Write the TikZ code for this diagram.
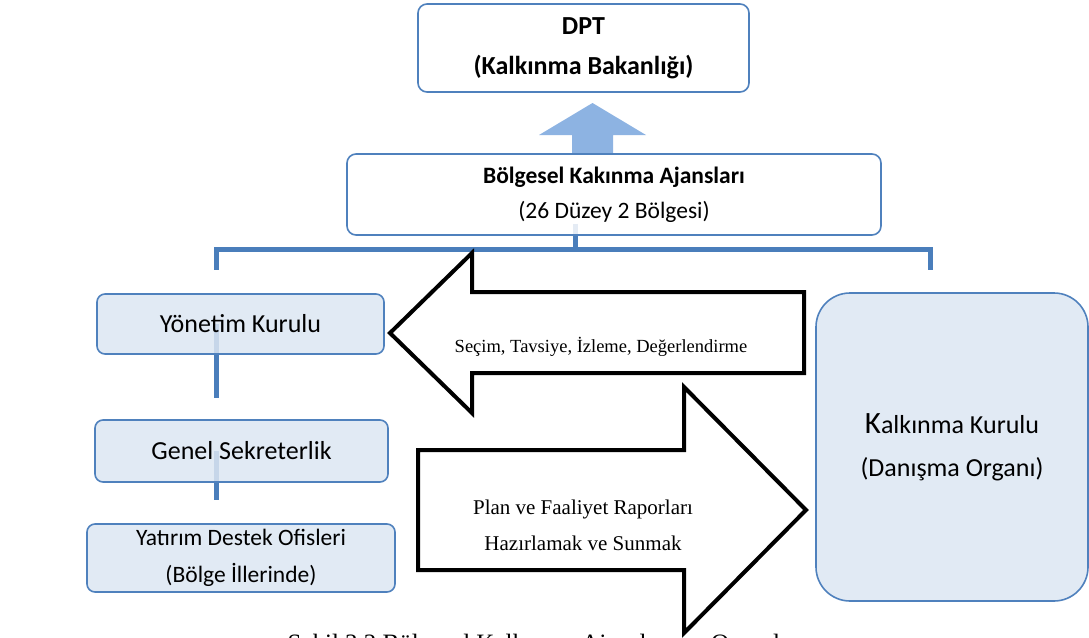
\documentclass[tikz,border=0pt]{standalone}
\usepackage{fontspec}
\setmainfont{Carlito}
\newfontfamily\serifface{Liberation Serif}
\usetikzlibrary{positioning, calc, backgrounds}

\definecolor{boxline}{HTML}{4F81BD}
\definecolor{boxfill}{HTML}{DCE6F2}
\definecolor{barline}{HTML}{4A7EBB}
\definecolor{upfill}{HTML}{8DB3E2}

\begin{document}
\begin{tikzpicture}[
    x=1pt, y=-1pt,
    font=\fontsize{26}{40}\selectfont,
    box/.style={
      draw=boxline, line width=1.6pt, rounded corners=9pt,
      fill=white, fill opacity=0.85, text opacity=1,
      align=center, inner sep=0pt
    },
    unit/.style={box, fill=boxfill},
    bar/.style={draw=barline, line width=5pt, line join=miter},
    blockarr/.style={draw=black, line width=4pt, fill=white, line join=miter},
    arrlbl/.style={font=\serifface\fontsize{18.5}{24}\selectfont, align=center, inner sep=0pt}
  ]
  \useasboundingbox (0,0) rectangle (1089,637);
  \clip (0,0) rectangle (1089,637);

  % upper level
  \node[box, minimum width=331pt, minimum height=88pt,
        font=\bfseries\fontsize{26}{40}\selectfont] (dpt) at (583.5,48) {DPT\\(Kalkınma Bakanlığı)};
  \node[box, minimum width=534pt, minimum height=81pt,
        font=\fontsize{23.5}{35}\selectfont] (bka) at (614,194.5) {\textbf{Bölgesel Kakınma Ajansları}\\(26 Düzey 2 Bölgesi)};

  % left column
  \node[unit, minimum width=287pt, minimum height=60pt, rounded corners=8pt] (yk) at (240.5,324) {Yönetim Kurulu};
  \node[unit, minimum width=293pt, minimum height=62pt, rounded corners=8pt] (gs) at (241.5,451) {Genel Sekreterlik};
  \node[unit, minimum width=308pt, minimum height=68pt, rounded corners=8pt,
        font=\fontsize{23.5}{37}\selectfont] (ydo) at (241,558) {Yatırım Destek Ofisleri\\(Bölge İllerinde)};

  % right column
  \node[unit, minimum width=272pt, minimum height=308pt, rounded corners=34pt,
        font=\fontsize{26}{43}\selectfont] (kk) at (952,447) {{\fontsize{31}{43}\selectfont K}alkınma Kurulu\\(Danışma Organı)};

  \coordinate (hub) at (575,249);
  \coordinate (lt) at (216,270);
  \coordinate (rt) at (930,270);
  \coordinate (ykend) at (216,398);
  \coordinate (gsend) at (216,500);
  \coordinate (uptip) at (592.5,103);
  \coordinate (seltip) at (390,333);
  \coordinate (plantip) at (806,510);

  \begin{scope}[on background layer]
    \draw[bar] ($(hub |- bka.south)+(0,-12)$) -- (hub) -| (lt);
    \draw[bar] (hub) -| (rt);
    \draw[bar] (yk.center -| ykend) -- (ykend);
    \draw[bar] (gs.center -| gsend) -- (gsend);
    \fill[upfill] (uptip) -- ++(53.5,32) -- ++(-33,0) -- ++(0,19) -- ++(-41,0) -- ++(0,-19) -- ++(-33,0) -- cycle;
  \end{scope}

  % block arrows
  \draw[blockarr] (seltip) -- ++(82,-80) -- ++(0,39) -- ++(332,0) -- ++(0,81) -- ++(-332,0) -- ++(0,40) -- cycle;
  \node[arrlbl] (sel) at (601,347) {Seçim, Tavsiye, İzleme, Değerlendirme};

  \draw[blockarr] (plantip) -- ++(-122,-123) -- ++(0,63) -- ++(-266,0) -- ++(0,120) -- ++(266,0) -- ++(0,63) -- cycle;
  \node[arrlbl, font=\serifface\fontsize{21}{36}\selectfont] (plan) at (583,525) {Plan ve Faaliyet Raporları\\Hazırlamak ve Sunmak};

  \node[font=\serifface\fontsize{25}{30}\selectfont, anchor=base, inner sep=0pt] (caption) at (547,651)
    {Şekil 3.2 Bölgesel Kalkınma Ajanslarının Organları};
\end{tikzpicture}
\end{document}
